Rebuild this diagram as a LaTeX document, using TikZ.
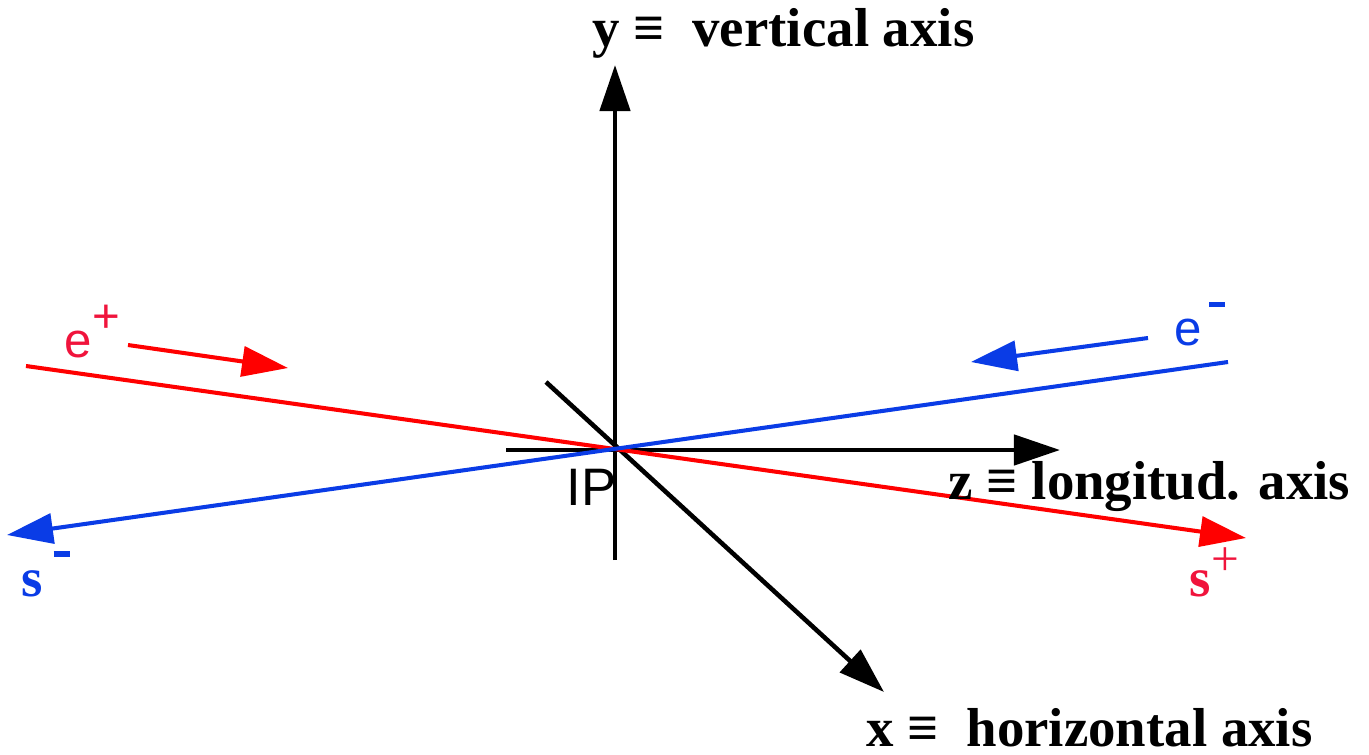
\documentclass[tikz,border=0pt]{standalone}
\usepackage{fontspec}
\setmainfont{Liberation Serif}
\setsansfont{Liberation Sans}
\usetikzlibrary{arrows.meta}
\definecolor{BeamRed}{HTML}{FF0000}
\definecolor{TagRed}{HTML}{F0143C}
\definecolor{BeamBlue}{HTML}{0A3CE6}

\begin{document}
\begin{tikzpicture}[x=0.01cm,y=-0.01cm,>={Triangle[length=0.46cm,width=0.3cm]},
    axis/.style={line width=1.3pt,black},
    beam/.style={line width=1.15pt},
    axislabel/.style={font=\fontsize{15.6}{18}\selectfont\bfseries,anchor=base west,inner sep=0pt},
    tag/.style={font=\fontsize{14}{17}\selectfont\sffamily,anchor=base west,inner sep=0pt}]
      \useasboundingbox (0,0) rectangle (1369,754);

      % axes
      \coordinate (IP) at (615,450);
      \coordinate (ybot) at (615,560);
      \coordinate (ytop) at (615,65);
      \coordinate (zbeg) at (506,450);
      \coordinate (zend) at (1060,450);
      \coordinate (xbeg) at (546,382);
      \coordinate (xend) at (884,692);
      \draw[axis,->] (ybot) -- (ytop);
      \draw[axis,->] (zbeg) -- (zend);
      \draw[axis,->] (xbeg) -- (xend);

      % beams
      \coordinate (rbeg) at (26,366);
      \coordinate (rend) at (1246,538);
      \coordinate (bbeg) at (1228,362);
      \coordinate (bend) at (7,535);
      \draw[beam,BeamRed,->] (rbeg) -- (rend);
      \draw[beam,BeamBlue,->] (bbeg) -- (bend);

      \coordinate (epa) at (128,345);
      \coordinate (epb) at (288,368);
      \coordinate (ema) at (1148,338);
      \coordinate (emb) at (971,362);
      \draw[beam,BeamRed,->] (epa) -- (epb);
      \draw[beam,BeamBlue,->] (ema) -- (emb);

      % labels
      \node[axislabel] (ylab) at (592,46) {y ≡\ \ vertical axis};
      \node[axislabel] (zlab) at (948,499) {z ≡ longitud. axis};
      \node[axislabel] (xlab) at (866,746) {x ≡\ \ horizontal axis};
      \node[tag,font=\fontsize{15}{18}\selectfont\sffamily] (iplab) at (566,505) {IP};

      \node[tag,text=TagRed] (eplus) at (64,357) {e\raisebox{0.5em}{\fontsize{13.5}{13.5}\selectfont +}};
      \node[tag,text=BeamBlue] (eminus) at (1174,345) {e\kern2pt\raisebox{0.78em}{\rule{0.32em}{0.1em}}};
      \node[axislabel,text=BeamBlue] (sminus) at (21,596) {s\kern3pt\raisebox{0.72em}{\rule{0.3em}{0.1em}}};
      \node[axislabel,text=TagRed] (splus) at (1189,596) {s\raisebox{0.38em}{\fontsize{14}{14}\selectfont\mdseries +}};
\end{tikzpicture}
\end{document}
